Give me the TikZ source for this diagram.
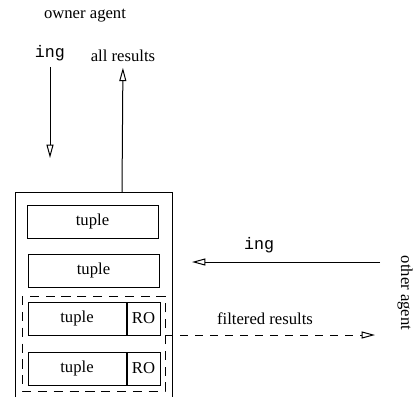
\documentclass[tikz,border=0pt]{standalone}
\usepackage{fontspec}
\setmainfont{Liberation Serif}
\setmonofont{Liberation Mono}
\usepackage{tikz}
\usetikzlibrary{arrows.meta}

\tikzset{
  tuplebox/.style={draw,line width=0.6pt,minimum height=33*0.6pt,inner sep=0pt},
  openarrow/.style={-{Triangle[open,length=8pt,width=4.2pt]},line width=0.6pt}
}

\begin{document}
\begin{tikzpicture}[x=0.6pt,y=-0.6pt]
     \useasboundingbox (0,0) rectangle (414,397);
     % outer store, open at the bottom
     \draw[line width=0.6pt] (15,397) -- (15,192) -- (172,192) -- (172,397);
     \node[tuplebox,minimum width=131*0.6pt] (t1) at (92.5,221.5) {tuple};
     \node[tuplebox,minimum width=131*0.6pt] (t2) at (93.5,270.5) {tuple};
     \node[tuplebox,minimum width=98*0.6pt]  (t3) at (77,318.5) {tuple};
     \node[tuplebox,minimum width=33*0.6pt,anchor=west] (r3) at (t3.east) {RO};
     \node[tuplebox,minimum width=98*0.6pt]  (t4) at (77,368.5) {tuple};
     \node[tuplebox,minimum width=33*0.6pt,anchor=west] (r4) at (t4.east) {RO};
     \draw[dashed,dash pattern=on 5.5pt off 4pt,line width=0.6pt] (22,296) rectangle (165,391);
     % owner agent side
     \node (owner) at (85,16) {owner agent};
     \node[font=\ttfamily] (ing1) at (50,53) {ing};
     \node (all) at (123,56) {all results};
     \coordinate (in1) at (50,158);
     \coordinate (top) at (122,192);
     \draw[openarrow] (ing1) ++(0,14) -- (in1);
     \draw[openarrow] (top) -- (all);
     % other agent side
     \node[rotate=-90] (other) at (405,293) {other agent};
     \coordinate (src2) at (380,262);
     \coordinate (dst2) at (192,262);
     \draw[openarrow] (src2) -- (dst2);
     \node[font=\ttfamily] (ing2) at (259,245) {ing};
     \coordinate (fstart) at (165,335);
     \coordinate (fend) at (375,335);
     \draw[openarrow,dashed,dash pattern=on 5pt off 4pt] (fstart) -- (fend);
     \node (filt) at (265,319) {filtered results};
    \end{tikzpicture}
\end{document}
